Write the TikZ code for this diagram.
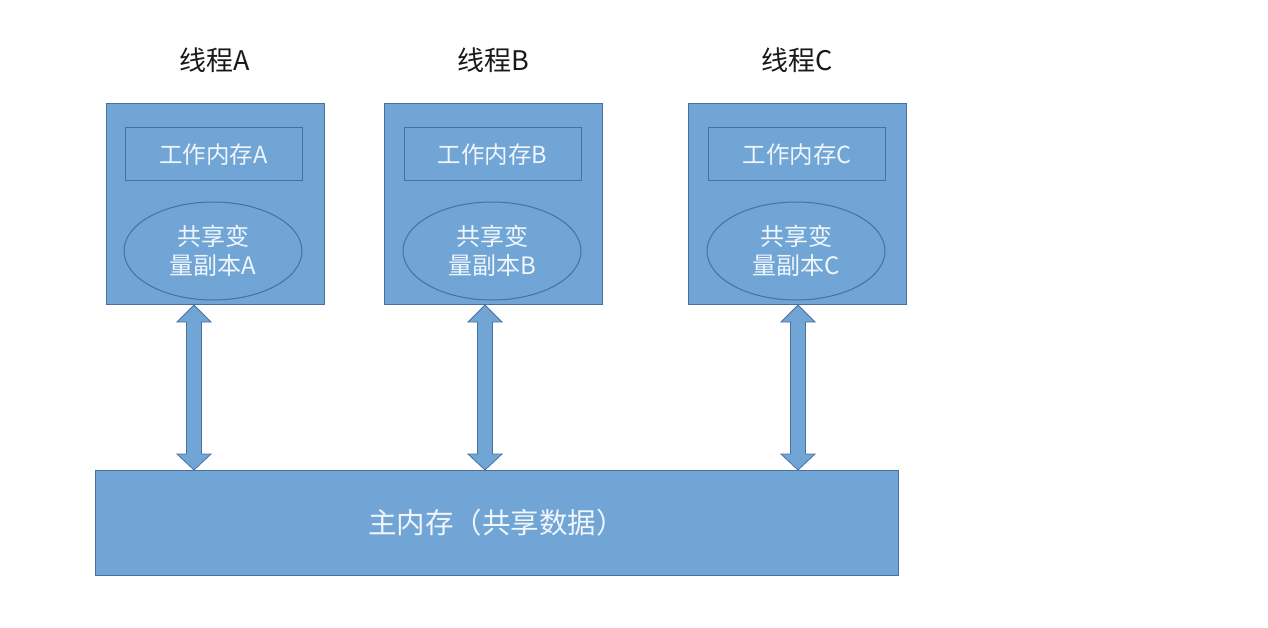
\documentclass[tikz,border=0pt]{standalone}
\usepackage{fontspec}
\setmainfont{Noto Sans CJK SC}
\usetikzlibrary{shapes.geometric,calc}
\definecolor{boxfill}{RGB}{112,165,214}
\definecolor{boxline}{RGB}{72,112,160}
\definecolor{txtw}{RGB}{240,246,252}
\definecolor{titlec}{RGB}{25,25,25}
\tikzset{
  thread/.style={draw=boxline, line width=1pt, fill=boxfill, minimum width=218pt, minimum height=200pt, inner sep=0pt},
  work/.style={draw=boxline, line width=1pt, fill=boxfill, minimum width=177pt, minimum height=53pt, inner sep=0pt, text=txtw, font=\fontsize{23.5}{26}\selectfont},
  copyell/.style={ellipse, draw=boxline, line width=1pt, fill=boxfill, minimum width=178pt, minimum height=98pt, inner sep=0pt, text=txtw, align=center, font=\fontsize{24}{29}\selectfont},
  title/.style={text=titlec, font=\fontsize{27}{30}\selectfont, inner sep=0pt},
  mainmem/.style={draw=boxline, line width=1pt, fill=boxfill, minimum width=803pt, minimum height=105pt, inner sep=0pt, text=txtw, font=\fontsize{28.5}{32}\selectfont},
  blockarrow/.style={draw=boxline, line width=0.8pt, fill=boxfill, line join=miter}
}
\newcommand{\blockarr}[2]{%
  \draw[blockarrow] (#1) -- ($(#1)+(17,17)$) -- ($(#1)+(7.5,17)$) -- ($(#2)+(7.5,-16)$) -- ($(#2)+(17,-16)$) -- (#2)
    -- ($(#2)+(-17,-16)$) -- ($(#2)+(-7.5,-16)$) -- ($(#1)+(-7.5,17)$) -- ($(#1)+(-17,17)$) -- cycle;}
\begin{document}
\begin{tikzpicture}[x=1pt,y=-1pt]
\useasboundingbox (0,0) rectangle (1268,628);
% titles
\node[title] (tA) at (215,60) {线程A};
\node[title] (tB) at (493,60) {线程B};
\node[title] (tC) at (797,60) {线程C};
% thread boxes
\node[thread] (A) at (215,204) {};
\node[thread] (B) at (493,204) {};
\node[thread] (C) at (797.5,204) {};
% work memory
\node[work] (wA) at (213.5,154.5) {工作内存A};
\node[work] (wB) at (492.5,154.5) {工作内存B};
\node[work] (wC) at (797,154.5) {工作内存C};
% copies
\node[copyell] (eA) at (213,251) {共享变\\量副本A};
\node[copyell] (eB) at (492,251) {共享变\\量副本B};
\node[copyell] (eC) at (796,251) {共享变\\量副本C};
% main memory
\node[mainmem] (M) at (496.5,522.5) {主内存（共享数据）};
% arrows
\coordinate (aT) at (194,305); \coordinate (aB) at (194,470);
\coordinate (bT) at (485,305); \coordinate (bB) at (485,470);
\coordinate (cT) at (798,305); \coordinate (cB) at (798,470);
\blockarr{aT}{aB}
\blockarr{bT}{bB}
\blockarr{cT}{cB}
\end{tikzpicture}
\end{document}
